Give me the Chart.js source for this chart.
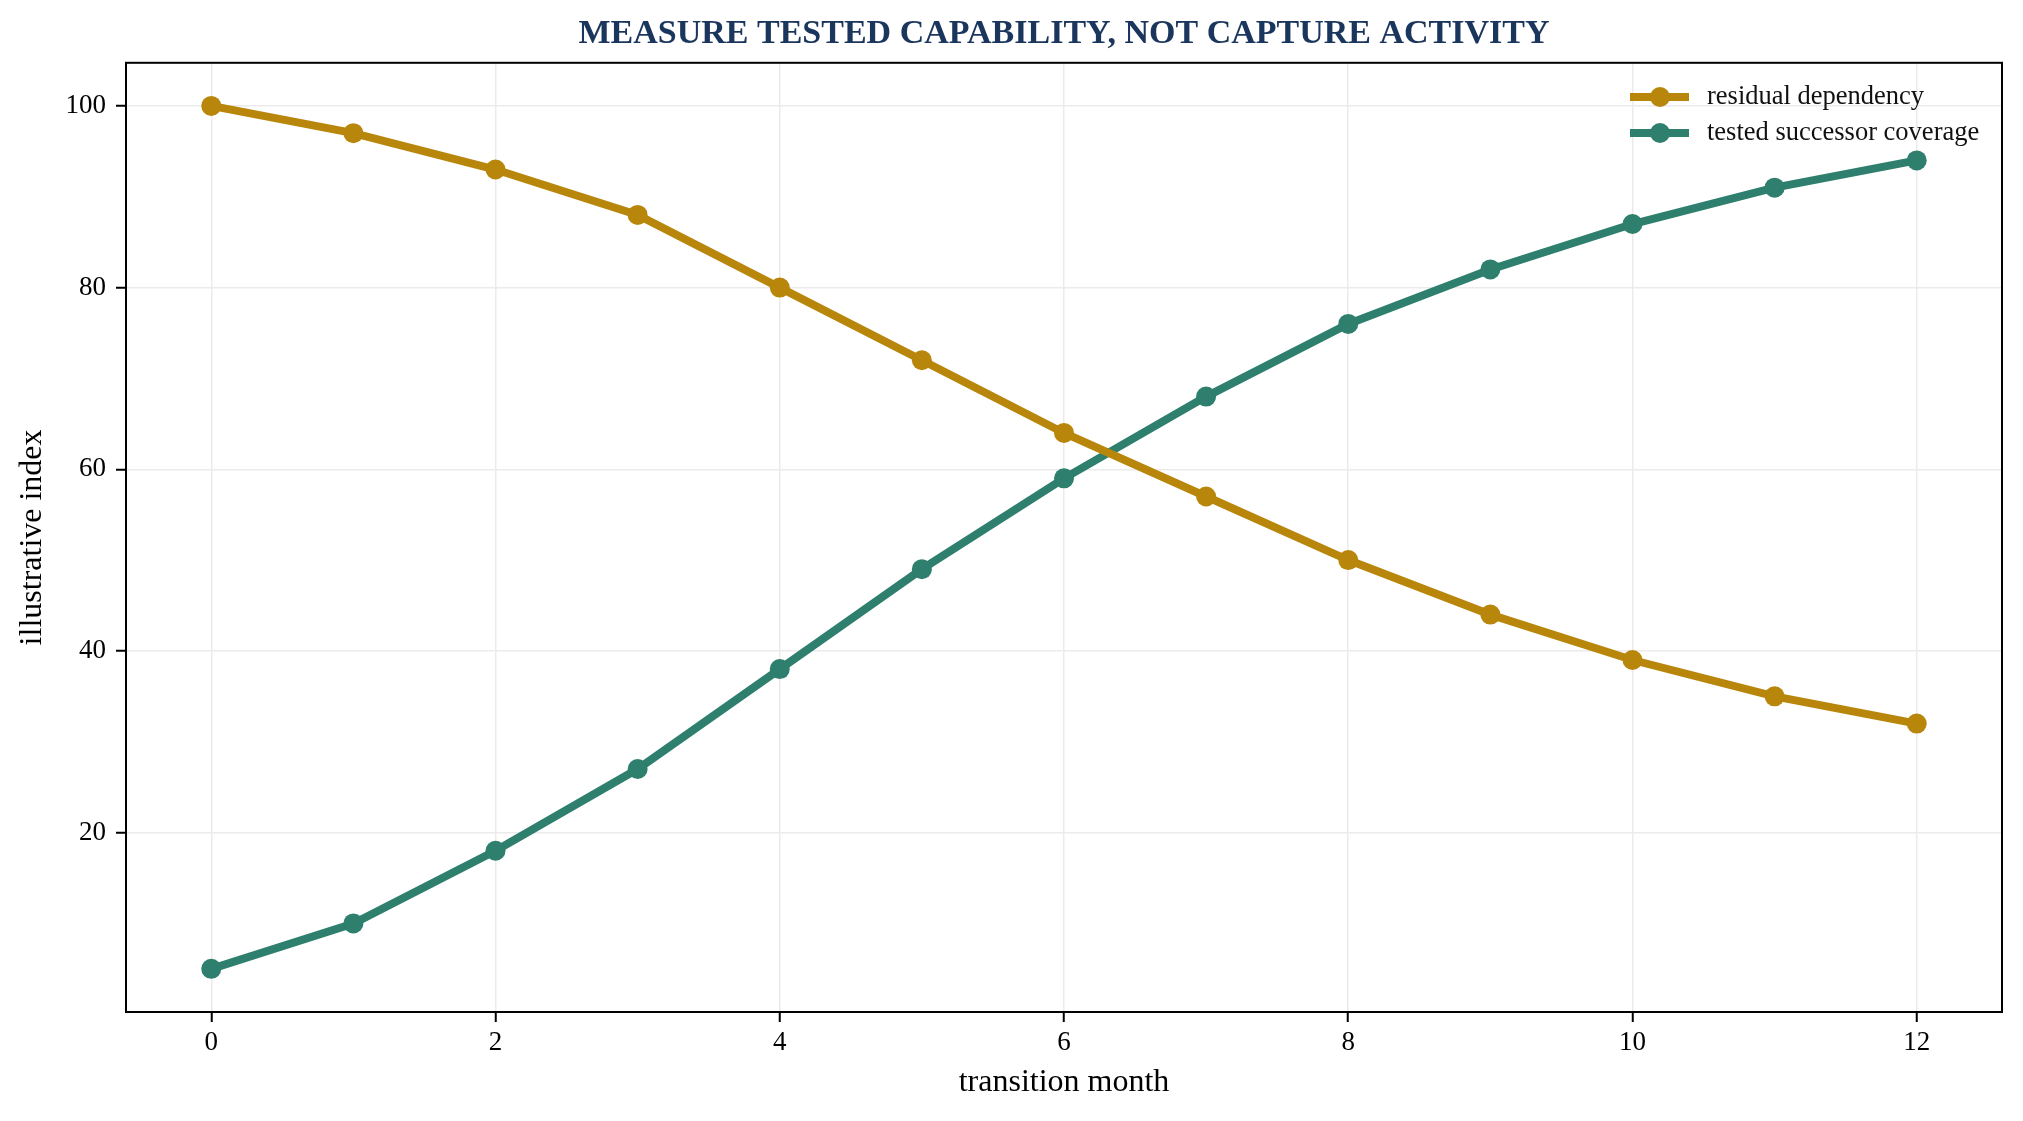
<!DOCTYPE html>
<html>
<head>
<meta charset="utf-8">
<script src="https://cdn.jsdelivr.net/npm/chart.js@4"></script>
<style>
  html, body { margin: 0; padding: 0; background: #fff; }
  #chart { display: block; }
</style>
</head>
<body>
<canvas id="chart" width="2023" height="1121" style="width:2023px;height:1121px"></canvas>
<script>
const months = [0, 1, 2, 3, 4, 5, 6, 7, 8, 9, 10, 11, 12];
const residualDependency = [100, 97, 93, 88, 80, 72, 64, 57, 50, 44, 39, 35, 32];
const successorCoverage = [5, 10, 18, 27, 38, 49, 59, 68, 76, 82, 87, 91, 94];
const xTickValues = [0, 2, 4, 6, 8, 10, 12];
const yTickValues = [20, 40, 60, 80, 100];

const serif = "'Liberation Serif', 'Times New Roman', serif";
const gold = '#b8860b';
const teal = '#2e7f6d';

const toPoints = (ys) => months.map((m, i) => ({ x: m, y: ys[i] }));

// frame round the plot and legend drawn inside upper right
const framePlugin = {
  id: 'frame',
  afterDraw(chart) {
    const { ctx, chartArea: a } = chart;
    ctx.save();
    ctx.strokeStyle = '#000';
    ctx.lineWidth = 2;
    ctx.strokeRect(a.left, a.top, a.right - a.left, a.bottom - a.top);

    ctx.font = '26.5px ' + serif;
    ctx.textBaseline = 'middle';
    chart.data.datasets.forEach((ds, i) => {
      const y = 97 + i * 36;
      ctx.strokeStyle = ds.borderColor;
      ctx.lineWidth = 8;
      ctx.beginPath();
      ctx.moveTo(1630, y);
      ctx.lineTo(1689, y);
      ctx.stroke();
      ctx.fillStyle = ds.borderColor;
      ctx.beginPath();
      ctx.arc(1660, y, 10, 0, Math.PI * 2);
      ctx.fill();
      ctx.fillStyle = '#111';
      ctx.fillText(ds.label, 1707, y);
    });
    ctx.restore();
  }
};

new Chart(document.getElementById('chart'), {
  type: 'line',
  data: {
    datasets: [
      {
        label: 'residual dependency',
        data: toPoints(residualDependency),
        borderColor: gold,
        backgroundColor: gold,
        borderWidth: 8,
        pointRadius: 10,
        pointHoverRadius: 10,
        pointBorderWidth: 0
      },
      {
        label: 'tested successor coverage',
        data: toPoints(successorCoverage),
        borderColor: teal,
        backgroundColor: teal,
        borderWidth: 8,
        pointRadius: 10,
        pointHoverRadius: 10,
        pointBorderWidth: 0
      }
    ]
  },
  plugins: [framePlugin],
  options: {
    responsive: false,
    devicePixelRatio: 1,
    animation: false,
    layout: {
      padding: { top: 0, bottom: 0, left: 0, right: 21 }
    },
    plugins: {
      legend: { display: false },
      tooltip: { enabled: false },
      title: {
        display: true,
        fullSize: false,
        text: 'MEASURE TESTED CAPABILITY, NOT CAPTURE ACTIVITY',
        color: '#1b365d',
        font: { family: serif, size: 34, weight: 'bold', lineHeight: 1.2 },
        padding: { top: 14, bottom: 8 }
      }
    },
    scales: {
      x: {
        type: 'linear',
        min: -0.6,
        max: 12.6,
        afterBuildTicks: (axis) => { axis.ticks = xTickValues.map(v => ({ value: v })); },
        afterFit: (scale) => { scale.height = 109; },
        ticks: {
          color: '#000',
          font: { family: serif, size: 27 },
          padding: 5
        },
        grid: {
          color: '#ebebeb',
          lineWidth: 1.5,
          tickColor: '#000',
          tickWidth: 2,
          tickLength: 10
        },
        border: { color: '#000', width: 2 },
        title: {
          display: true,
          text: 'transition month',
          color: '#000',
          font: { family: serif, size: 32, lineHeight: 1.2 },
          padding: { top: 0, bottom: 19 }
        }
      },
      y: {
        min: 0.25,
        max: 104.75,
        afterBuildTicks: (axis) => { axis.ticks = yTickValues.map(v => ({ value: v })); },
        afterFit: (scale) => { scale.width = 126; },
        ticks: {
          color: '#000',
          font: { family: serif, size: 27 },
          padding: 10
        },
        grid: {
          color: '#ebebeb',
          lineWidth: 1.5,
          tickColor: '#000',
          tickWidth: 2,
          tickLength: 10
        },
        border: { color: '#000', width: 2 },
        title: {
          display: true,
          text: 'illustrative index',
          color: '#000',
          font: { family: serif, size: 32, lineHeight: 1.2 },
          padding: { top: 13, bottom: 0 }
        }
      }
    }
  }
});
</script>
</body>
</html>
